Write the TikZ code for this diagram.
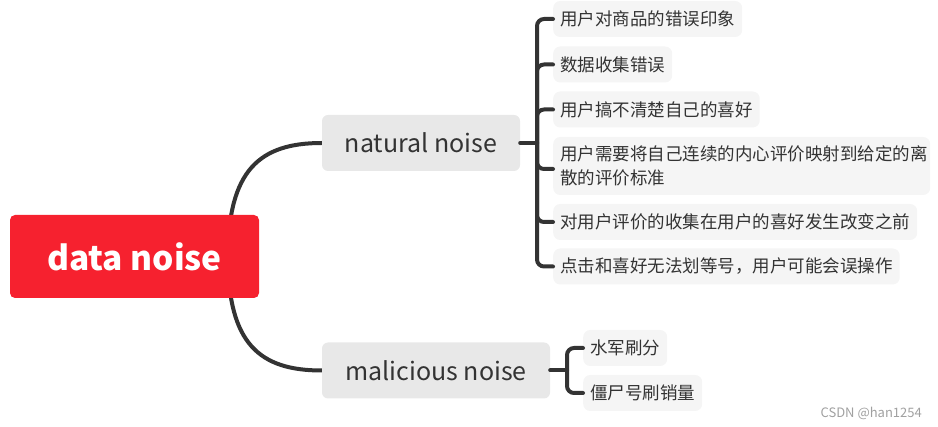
\documentclass[tikz,border=0pt]{standalone}
\usepackage{fontspec}
\usetikzlibrary{backgrounds}
\setmainfont{Noto Sans CJK SC}
\definecolor{rootred}{RGB}{246,33,47}
\definecolor{linec}{RGB}{51,51,51}
\definecolor{midgray}{RGB}{232,232,232}
\definecolor{leafgray}{RGB}{245,245,245}
\definecolor{txt}{RGB}{51,51,51}
\definecolor{wm}{RGB}{160,160,160}
\begin{document}
\begin{tikzpicture}[x=1pt,y=-1pt,
  rootbox/.style={fill=rootred,rounded corners=5pt,minimum width=249pt,minimum height=83pt,text=white,font=\fontsize{33.5}{38}\selectfont\bfseries,inner sep=0pt},
  midbox/.style={fill=midgray,rounded corners=6pt,minimum height=56pt,text=txt,font=\fontsize{25}{28}\selectfont,inner sep=0pt},
  leafbox/.style={fill=leafgray,rounded corners=7pt,minimum height=36pt,text=txt,font=\fontsize{17.5}{24}\selectfont,inner xsep=7pt,inner ysep=0pt,anchor=west,align=left},
  conn/.style={draw=linec,line width=4pt,line cap=round},
  branch/.style={conn,rounded corners=7pt}]
\useasboundingbox (0,0) rectangle (938,427);
% nodes
\node[rootbox] (root) at (134.5,256.5) {data noise};
\node[midbox,minimum width=198pt] (nat) at (421,143) {natural noise};
\node[midbox,minimum width=228pt] (mal) at (436,370.5) {malicious noise};
\node[leafbox] (c1) at (553,19) {用户对商品的错误印象};
\node[leafbox] (c2) at (553,64.5) {数据收集错误};
\node[leafbox] (c3) at (553,109.5) {用户搞不清楚自己的喜好};
\node[leafbox,minimum height=58pt,text width=363pt] (c4) at (553,166) {用户需要将自己连续的内心评价映射到给定的离\\散的评价标准};
\node[leafbox] (c5) at (553,222) {对用户评价的收集在用户的喜好发生改变之前};
\node[leafbox] (c6) at (553,266.5) {点击和喜好无法划等号，用户可能会误操作};
\node[leafbox] (m1) at (583,348) {水军刷分};
\node[leafbox] (m2) at (583,393) {僵尸号刷销量};
\node[text=wm,font=\fontsize{13}{15}\selectfont,anchor=east,inner sep=0pt] (wmk) at (922,413) {CSDN @han1254};
% junctions
\coordinate (rj) at (228,257);
\coordinate (nj) at (537,143);
\coordinate (mj) at (567,370.5);
% root connectors (behind the root box)
\begin{scope}[on background layer]
\draw[conn] (rj) .. controls +(0,-87) and +(-62,0) .. (nat.west);
\draw[conn] (rj) .. controls +(0,87) and +(-62,0) .. (mal.west);
\end{scope}
% natural branch
\draw[conn] (nat.east) -- (nj);
\foreach \c in {c1,c2,c3,c5,c6} \draw[branch] (nj) |- (\c.west);
\draw[branch] (nj) |- ([yshift=-3pt]c4.west);
% malicious branch
\draw[conn] (mal.east) -- (mj);
\foreach \c in {m1,m2} \draw[branch] (mj) |- (\c.west);
\end{tikzpicture}
\end{document}
